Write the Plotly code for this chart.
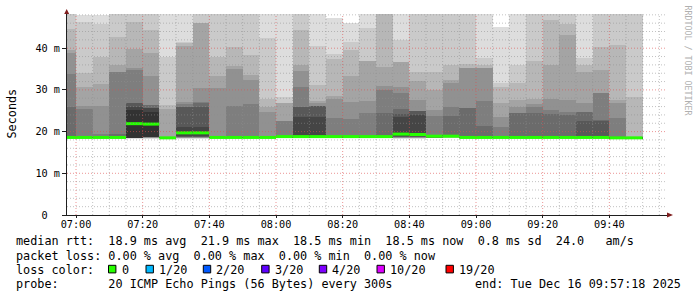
import pandas as pd
import plotly.graph_objects as go

DAY = "2025-12-16"
STEP_S = 300

bar_start = ["06:55", "07:00", "07:05", "07:10", "07:15", "07:20", "07:25", "07:30",
             "07:35", "07:40", "07:45", "07:50", "07:55", "08:00", "08:05", "08:10",
             "08:15", "08:20", "08:25", "08:30", "08:35", "08:40", "08:45", "08:50",
             "08:55", "09:00", "09:05", "09:10", "09:15", "09:20", "09:25", "09:30",
             "09:35", "09:40", "09:45"]

median_rtt = [18.6, 18.6, 18.6, 18.6, 21.9, 21.8, 18.5, 19.7,
              19.7, 18.6, 18.6, 18.6, 18.6, 18.8, 18.8, 18.8,
              18.8, 18.8, 18.8, 18.8, 19.4, 19.3, 18.9, 18.9,
              18.6, 18.6, 18.6, 18.6, 18.6, 18.6, 18.6, 18.6,
              18.6, 18.5, 18.5]

loss_count = [0] * 35

# 20 sorted ping rtts (ms) per 5-minute step
pings = [
    [18.3, 18.4, 18.4, 18.5, 18.5, 18.5, 18.5, 18.6, 18.6, 18.6, 18.7, 18.7, 18.8, 26.0, 33.8, 38.8, 39.6, 44.6, 50.0, 55.0],
    [18.3, 18.4, 18.4, 18.5, 18.5, 18.5, 18.5, 18.6, 18.6, 18.6, 18.7, 18.7, 18.8, 18.9, 25.4, 26.1, 30.6, 34.1, 46.4, 47.9],
    [18.3, 18.4, 18.4, 18.5, 18.5, 18.5, 18.5, 18.6, 18.6, 18.6, 18.7, 18.7, 18.8, 18.8, 19.4, 26.2, 31.4, 38.0, 45.8, 47.9],
    [18.3, 18.4, 18.4, 18.5, 18.5, 18.5, 18.5, 18.6, 18.6, 18.6, 18.7, 18.7, 18.8, 19.5, 34.4, 34.4, 36.0, 42.8, 50.0, 55.0],
    [18.3, 18.4, 18.4, 18.4, 18.5, 18.5, 18.5, 18.5, 18.5, 18.5, 25.2, 26.0, 26.8, 26.8, 34.8, 35.2, 39.7, 46.4, 50.0, 55.0],
    [18.3, 18.4, 18.4, 18.5, 18.5, 18.6, 18.6, 18.7, 18.7, 18.8, 24.8, 25.6, 25.6, 26.4, 26.4, 33.4, 38.8, 44.4, 50.0, 55.0],
    [18.3, 18.4, 18.4, 18.4, 18.5, 18.5, 18.5, 18.5, 18.5, 18.5, 18.6, 18.6, 18.6, 18.6, 18.7, 18.7, 25.4, 26.4, 38.0, 49.0],
    [18.3, 18.4, 18.4, 18.5, 18.5, 18.6, 18.7, 18.8, 19.0, 19.4, 20.0, 21.0, 26.0, 26.0, 26.6, 27.2, 40.6, 41.2, 41.6, 49.0],
    [18.3, 18.4, 18.4, 18.5, 18.5, 18.6, 18.7, 18.8, 19.0, 19.4, 20.0, 21.0, 26.0, 26.8, 27.2, 30.5, 46.1, 46.1, 50.0, 55.0],
    [18.3, 18.4, 18.4, 18.5, 18.5, 18.5, 18.5, 18.6, 18.6, 18.6, 18.7, 18.7, 18.7, 18.7, 18.7, 30.5, 33.4, 38.0, 50.0, 55.0],
    [18.3, 18.4, 18.4, 18.5, 18.5, 18.5, 18.5, 18.6, 18.6, 18.6, 18.7, 18.7, 18.7, 18.7, 26.1, 35.0, 35.7, 40.4, 50.0, 55.0],
    [18.3, 18.4, 18.4, 18.5, 18.5, 18.5, 18.5, 18.6, 18.6, 18.6, 18.7, 18.7, 18.7, 18.7, 26.5, 32.4, 33.6, 38.4, 50.0, 55.0],
    [18.3, 18.4, 18.4, 18.5, 18.5, 18.5, 18.5, 18.6, 18.6, 18.6, 18.7, 18.7, 18.7, 18.7, 18.7, 24.8, 26.0, 27.7, 42.4, 49.0],
    [18.4, 18.5, 18.5, 18.6, 18.6, 18.7, 18.7, 18.7, 18.7, 18.7, 18.9, 18.9, 18.9, 18.9, 22.6, 22.6, 26.9, 26.9, 28.4, 49.0],
    [18.4, 18.5, 18.5, 18.6, 18.6, 18.7, 18.7, 18.7, 18.7, 18.7, 18.9, 23.6, 26.0, 26.0, 30.8, 34.5, 36.0, 44.4, 50.0, 55.0],
    [18.4, 18.5, 18.5, 18.6, 18.6, 18.7, 18.7, 18.7, 18.7, 18.7, 18.9, 23.6, 26.1, 26.1, 26.1, 26.9, 27.4, 31.2, 40.5, 49.0],
    [18.4, 18.5, 18.5, 18.6, 18.6, 18.7, 18.7, 18.7, 18.7, 18.7, 18.9, 18.9, 18.9, 18.9, 23.2, 27.7, 28.5, 37.3, 38.5, 47.3],
    [18.4, 18.5, 18.5, 18.6, 18.6, 18.7, 18.7, 18.7, 18.7, 18.7, 18.9, 18.9, 18.9, 18.9, 23.0, 27.2, 33.3, 39.6, 41.6, 46.0],
    [18.4, 18.5, 18.5, 18.6, 18.6, 18.7, 18.7, 18.7, 18.7, 18.7, 18.9, 18.9, 18.9, 18.9, 24.4, 27.3, 36.9, 36.9, 44.8, 49.0],
    [18.4, 18.5, 18.5, 18.6, 18.6, 18.7, 18.7, 18.7, 18.7, 18.7, 18.9, 18.9, 18.9, 24.5, 30.0, 30.9, 35.6, 50.0, 53.0, 56.0],
    [18.3, 18.4, 18.4, 18.5, 18.5, 18.6, 18.7, 18.8, 19.0, 19.2, 19.6, 23.4, 24.2, 25.4, 29.3, 30.8, 36.8, 36.8, 42.0, 49.0],
    [18.3, 18.4, 18.4, 18.5, 18.5, 18.6, 18.7, 18.8, 18.9, 19.1, 19.5, 24.0, 25.0, 25.0, 25.0, 27.6, 32.1, 34.4, 50.0, 55.0],
    [18.4, 18.5, 18.5, 18.6, 18.6, 18.7, 18.7, 18.8, 18.8, 18.8, 19.0, 19.0, 19.0, 19.0, 23.7, 25.3, 30.0, 34.4, 50.0, 55.0],
    [18.4, 18.5, 18.5, 18.6, 18.6, 18.7, 18.7, 18.8, 18.8, 18.8, 19.0, 19.0, 19.2, 23.7, 26.0, 31.7, 32.4, 36.0, 50.0, 55.0],
    [18.3, 18.4, 18.4, 18.5, 18.5, 18.5, 18.5, 18.6, 18.6, 18.6, 18.7, 18.7, 18.8, 25.7, 25.7, 35.2, 35.2, 36.2, 50.0, 55.0],
    [18.3, 18.4, 18.4, 18.5, 18.5, 18.5, 18.5, 18.6, 18.6, 18.6, 18.7, 18.7, 18.8, 21.3, 27.4, 35.2, 35.2, 36.0, 37.6, 49.0],
    [18.3, 18.4, 18.4, 18.5, 18.5, 18.5, 18.5, 18.6, 18.6, 18.6, 18.7, 18.7, 18.8, 18.8, 21.2, 23.6, 26.8, 30.6, 31.7, 45.0],
    [18.3, 18.4, 18.4, 18.5, 18.5, 18.5, 18.5, 18.6, 18.6, 18.6, 18.7, 18.7, 18.8, 24.5, 24.5, 26.0, 27.6, 31.6, 36.0, 49.0],
    [18.3, 18.4, 18.4, 18.5, 18.5, 18.5, 18.5, 18.6, 18.6, 18.6, 18.7, 18.7, 18.8, 24.4, 25.8, 26.5, 27.7, 37.0, 50.0, 55.0],
    [18.3, 18.4, 18.4, 18.5, 18.5, 18.5, 18.5, 18.6, 18.6, 18.6, 18.7, 18.7, 18.8, 24.2, 25.2, 27.7, 36.0, 46.8, 50.0, 55.0],
    [18.3, 18.4, 18.4, 18.5, 18.5, 18.5, 18.5, 18.6, 18.6, 18.6, 18.7, 18.7, 18.8, 24.0, 24.8, 27.6, 43.2, 45.8, 50.0, 55.0],
    [18.3, 18.4, 18.4, 18.5, 18.5, 18.5, 18.5, 18.6, 18.6, 18.6, 18.7, 18.9, 22.5, 24.8, 24.8, 26.8, 34.4, 36.0, 37.7, 49.0],
    [18.3, 18.4, 18.4, 18.5, 18.5, 18.5, 18.5, 18.6, 18.6, 18.6, 18.7, 18.9, 22.5, 22.9, 29.2, 29.2, 34.8, 40.4, 50.0, 55.0],
    [18.2, 18.3, 18.3, 18.4, 18.4, 18.4, 18.4, 18.4, 18.4, 18.4, 18.6, 18.6, 18.6, 18.6, 23.3, 26.8, 27.6, 40.8, 50.0, 55.0],
    [18.2, 18.3, 18.3, 18.4, 18.4, 18.4, 18.4, 18.4, 18.4, 18.4, 18.6, 18.6, 18.6, 18.6, 18.6, 18.6, 18.6, 28.4, 50.0, 55.0],
]

x_tick_labels = ["07:00", "07:20", "07:40", "08:00", "08:20", "08:40", "09:00", "09:20", "09:40"]
y_tick_vals = [0, 10, 20, 30, 40]
y_tick_text = ["0\u00a0\u00a0", "10 m", "20 m", "30 m", "40 m"]

loss_levels = ["0", "1/20", "2/20", "3/20", "4/20", "10/20", "19/20"]
loss_colors = ["#26ff00", "#00b8ff", "#0059ff", "#5e00ff", "#7e00ff", "#dd00ff", "#ff0000"]

legend_rows = [
    "median rtt:  18.9 ms avg  21.9 ms max  18.5 ms min  18.5 ms now  0.8 ms sd  24.0   am/s",
    "packet loss: 0.00 % avg  0.00 % max  0.00 % min  0.00 % now",
    "loss color:",
    "probe:       20 ICMP Echo Pings (56 Bytes) every 300s",
]
end_text = "end: Tue Dec 16 09:57:18 2025"

# ---------------------------------------------------------------- geometry
W, H = 697, 297
ML, MR, MT, MB = 67, 30, 14, 82
PW, PH = W - ML - MR, H - MT - MB


def fx(px):
    return (px - ML) / PW


def fy(py):
    return (H - MB - py) / PH


FONT = "DejaVu Sans Mono"
starts = [pd.Timestamp(f"{DAY} {s}") for s in bar_start]
centers = [s + pd.Timedelta(seconds=STEP_S / 2) for s in starts]
ends = [s + pd.Timedelta(seconds=STEP_S) for s in starts]

fig = go.Figure()

half = len(pings[0]) // 2
for ibot in range(1, half + 1):
    itop = len(pings[0]) + 1 - ibot
    g = int(190 / half * (half - ibot)) + 50
    col = f"rgb({g},{g},{g})"
    base = [row[ibot - 1] for row in pings]
    height = [row[itop - 1] - row[ibot - 1] for row in pings]
    fig.add_trace(go.Bar(x=centers, y=height, base=base, width=STEP_S * 1000,
                         marker=dict(color=col, line=dict(width=0)),
                         showlegend=False, hoverinfo="skip"))

# median line, coloured by loss
lx, ly = [], []
for s, e, m in zip(starts, ends, median_rtt):
    lx += [s, e, None]
    ly += [m, m, None]
fig.add_trace(go.Scatter(x=lx, y=ly, mode="lines",
                         line=dict(color=loss_colors[0], width=3),
                         showlegend=False, hoverinfo="skip"))

shapes = []
# grid on top of smoke
t = pd.Timestamp(f"{DAY} 07:00")
t_end = pd.Timestamp(f"{DAY} 09:57:18")
while t < t_end:
    major = t.minute % 20 == 0
    shapes.append(dict(type="line", xref="x", yref="paper", x0=t, x1=t, y0=0, y1=1,
                       layer="above",
                       line=dict(color="rgba(222,79,79,0.6)" if major else "rgba(143,143,143,0.55)",
                                 width=1, dash="1px,2px")))
    t += pd.Timedelta(minutes=5)
for v in range(2, 49, 2):
    major = v % 10 == 0
    shapes.append(dict(type="line", xref="paper", yref="y", x0=0, x1=1, y0=v, y1=v,
                       layer="above",
                       line=dict(color="rgba(222,79,79,0.6)" if major else "rgba(143,143,143,0.55)",
                                 width=1, dash="1px,2px")))

# arrows
ARROW = "#801f1f"
shapes.append(dict(type="path", xref="paper", yref="paper",
                   path=f"M {fx(64.2)},{fy(14)} L {fx(66.7)},{fy(9)} L {fx(69.2)},{fy(14)} Z",
                   fillcolor=ARROW, line=dict(width=0), layer="above"))
shapes.append(dict(type="path", xref="paper", yref="paper",
                   path=f"M {fx(667)},{fy(212.5)} L {fx(673)},{fy(215)} L {fx(667)},{fy(217.5)} Z",
                   fillcolor=ARROW, line=dict(width=0), layer="above"))

annotations = []


def txt(s, px, py, size=11.8, xanchor="left", color="#000000", angle=0):
    annotations.append(dict(text=s.replace(" ", "\u00a0"), xref="paper", yref="paper",
                            x=fx(px), y=fy(py), xanchor=xanchor, yanchor="middle",
                            showarrow=False, textangle=angle, borderpad=0, borderwidth=0,
                            font=dict(family=FONT, size=size, color=color)))


row_y = [241, 255.5, 269.5, 283.5]
for r, yy in zip(legend_rows, row_y):
    txt(r, 16, yy)
txt(end_text, 681, row_y[3], xanchor="right")

box_x = [108.5, 146.0, 203.3, 261.7, 319.3, 377.0, 446.0]
for bx, lab, c in zip(box_x, loss_levels, loss_colors):
    shapes.append(dict(type="rect", xref="paper", yref="paper",
                       x0=fx(bx), x1=fx(bx + 7.4), y0=fy(265.3), y1=fy(272.9),
                       fillcolor=c, line=dict(color="#000000", width=1), layer="above"))
    txt(lab, bx + 13.0, row_y[2])

txt("Seconds", 11, 113.5, angle=-90)
txt("RRDTOOL / TOBI OETIKER", 687.5, 60, size=8.3, color="#b0b0b0", angle=90)
annotations[-1]["xanchor"] = "center"
annotations[-2]["xanchor"] = "center"

fig.update_layout(
    width=W, height=H,
    margin=dict(l=ML, r=MR, t=MT, b=MB, pad=0),
    paper_bgcolor="#ffffff", plot_bgcolor="#ffffff",
    barmode="overlay", bargap=0,
    font=dict(family=FONT, size=10.2, color="#000000"),
    showlegend=False,
    shapes=shapes, annotations=annotations,
    xaxis=dict(type="date",
               range=[f"{DAY} 06:57:18", f"{DAY} 09:57:18"],
               tickvals=[pd.Timestamp(f"{DAY} {s}") for s in x_tick_labels],
               ticktext=x_tick_labels,
               showgrid=False, zeroline=False,
               showline=True, linecolor="#1f1f1f", linewidth=1,
               ticks="outside", ticklen=2, tickcolor="#1f1f1f",
               ticklabelstandoff=-2,
               tickfont=dict(family=FONT, size=10.2, color="#000000")),
    yaxis=dict(range=[0, 48.2],
               tickvals=y_tick_vals, ticktext=y_tick_text,
               showgrid=False, zeroline=False,
               showline=True, linecolor="#1f1f1f", linewidth=1,
               ticks="outside", ticklen=4, tickcolor="#1f1f1f",
               tickfont=dict(family=FONT, size=10.2, color="#000000")),
)

fig.write_html("out.html")
